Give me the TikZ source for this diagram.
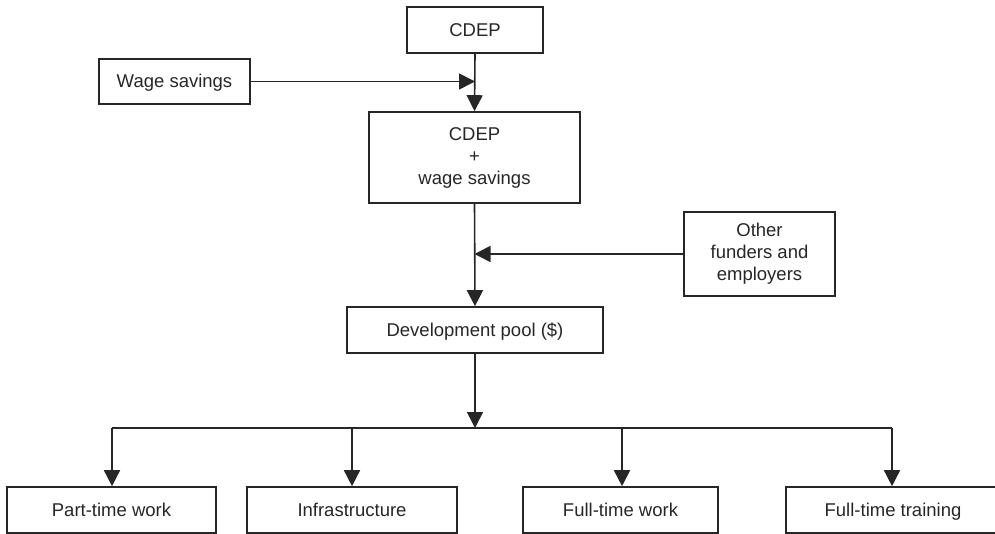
\documentclass[tikz,border=0pt]{standalone}
\usepackage{fontspec}
\setmainfont{Liberation Sans}
\usetikzlibrary{arrows.meta}
\begin{document}
\begin{tikzpicture}[x=1pt,y=-1pt,
  box/.style={draw=black!85, line width=1.6pt, rectangle, inner sep=0pt, align=center,
    font=\fontsize{18.5}{22}\selectfont, text=black!85},
  onebox/.style={box, text height=13.5pt, text depth=0.5pt},
  conn/.style={draw=black!85, line width=1.6pt},
  arr/.style={conn, -{Triangle[length=16pt,width=16pt]}}]
\useasboundingbox (0,0) rectangle (995,534);
\node[onebox, minimum width=136pt, minimum height=46pt] (cdep) at (475,30) {CDEP};
\node[onebox, minimum width=151pt, minimum height=45pt] (wage) at (174.5,81.5) {Wage savings};
\node[box, minimum width=211pt, minimum height=91pt] (comb) at (474.5,157.5) {CDEP\\+\\wage savings};
\node[box, minimum width=151pt, minimum height=84pt] (other) at (759.5,254) {Other\\funders and\\employers};
\node[onebox, minimum width=256pt, minimum height=46pt] (pool) at (475,330) {Development pool (\$)};
\node[onebox, minimum width=209pt, minimum height=46pt] (pt) at (111.5,510) {Part-time work};
\node[onebox, minimum width=210pt, minimum height=46pt] (infra) at (352,510) {Infrastructure};
\node[onebox, minimum width=195pt, minimum height=46pt] (ftw) at (620.5,510) {Full-time work};
\node[onebox, minimum width=214pt, minimum height=46pt] (ftt) at (893,510) {Full-time training};
\coordinate (split) at (475,428);
\coordinate (hl) at (112,428);
\coordinate (hr) at (892,428);
\draw[arr] (wage.east) -- (wage.east -| cdep.south);
\draw[arr] (cdep.south) -- (comb.north);
\draw[arr] (other.west) -- (other.west -| comb.south);
\draw[arr] (comb.south) -- (pool.north);
\draw[arr] (pool.south) -- (split);
\draw[conn] (hl) -- (hr);
\draw[arr] (hl) -- (hl |- pt.north);
\draw[arr] (352,428) -- (infra.north -| 352,0);
\draw[arr] (622,428) -- (ftw.north -| 622,0);
\draw[arr] (hr) -- (hr |- ftt.north);
\end{tikzpicture}
\end{document}
